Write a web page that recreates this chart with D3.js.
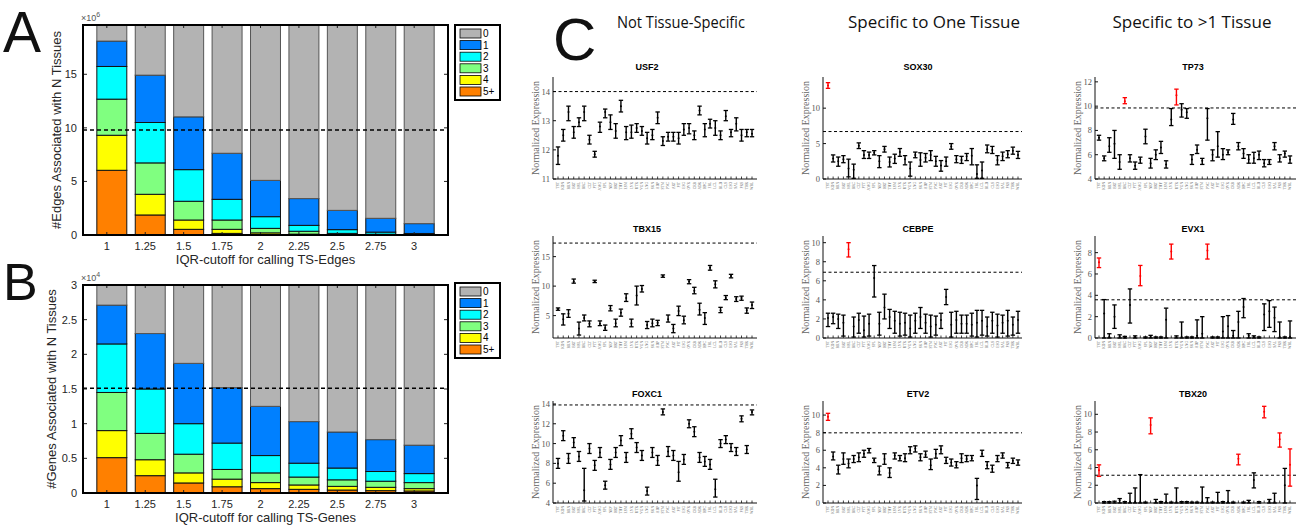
<!DOCTYPE html>
<html>
<head>
<meta charset="utf-8">
<script src="https://cdn.jsdelivr.net/npm/d3@7"></script>
<style>body{margin:0;background:#fff}</style>
</head>
<body>
<script>
'use strict';

// ---- panels A and B : stacked bars ----
const cutoffs = ["1", "1.25", "1.5", "1.75", "2", "2.25", "2.5", "2.75", "3"];
const nKeys = ["0", "1", "2", "3", "4", "5+"];
const nColors = ["#b3b3b3", "#0080ff", "#00ffff", "#80ff80", "#ffff00", "#ff8000"];

// edges (x 10^6), one array per number of tissues
const edges0 = [1.5, 4.68, 8.57, 11.97, 14.5, 16.2, 17.3, 18.04, 18.54];
const edges1 = [2.37, 4.42, 4.93, 4.3, 3.39, 2.5, 1.8, 1.29, 0.92];
const edges2 = [3.05, 3.77, 2.95, 1.93, 1.09, 0.55, 0.35, 0.2, 0.1];
const edges3 = [3.37, 2.93, 1.75, 0.87, 0.42, 0.27, 0.11, 0.05, 0.03];
const edges4 = [3.27, 1.93, 0.87, 0.38, 0.15, 0.06, 0.03, 0.015, 0.01];
const edges5 = [6.04, 1.87, 0.53, 0.15, 0.05, 0.02, 0.01, 0.005, 0.003];
const edgesHalf = 9.8;

// genes (x 10^4)
const genes0 = [0.31, 0.72, 1.15, 1.5, 1.77, 1.99, 2.14, 2.25, 2.33];
const genes1 = [0.56, 0.80, 0.87, 0.80, 0.71, 0.60, 0.52, 0.46, 0.41];
const genes2 = [0.70, 0.64, 0.44, 0.38, 0.25, 0.20, 0.17, 0.14, 0.13];
const genes3 = [0.55, 0.38, 0.27, 0.14, 0.14, 0.114, 0.094, 0.088, 0.087];
const genes4 = [0.39, 0.23, 0.145, 0.11, 0.087, 0.063, 0.053, 0.048, 0.034];
const genes5 = [0.51, 0.25, 0.145, 0.09, 0.063, 0.053, 0.043, 0.034, 0.029];
const genesHalf = 1.51;

// ---- panel C : expression per tissue, [low, mean, high] ----
const tissues = ["TST","KDN","BRN","BRT","MSL","BRC","CLT","PTT","AMG","SPL","NRV","HRT","THY",
  "ESM","LVR","UTR","VGN","LNG","SKN","ADP","STM","PNC","ART","PIT","ESG","OVR","CRB","ADR",
  "HPC","FBL","LCL","BLD","CLS","ESO","SAL","PRS","THR","WBL"];

const usf2 = [[11.5,11.8,12.1],[12.3,12.5,12.7],[13.0,13.3,13.5],[12.4,12.6,12.8],[12.8,12.95,13.1],
  [13.0,13.3,13.5],[12.2,12.35,12.5],[11.75,11.85,11.95],[12.6,12.8,12.95],[13.1,13.3,13.4],
  [12.7,12.95,13.2],[12.4,12.65,12.9],[13.3,13.5,13.7],[12.35,12.6,12.8],[12.4,12.6,12.85],
  [12.6,12.75,12.9],[12.5,12.65,12.8],[12.2,12.4,12.6],[12.35,12.5,12.7],[12.9,13.1,13.3],
  [12.15,12.3,12.45],[12.3,12.45,12.6],[12.3,12.45,12.6],[12.2,12.4,12.6],[12.5,12.7,12.9],
  [12.55,12.75,12.9],[12.35,12.5,12.65],[13.2,13.35,13.5],[12.45,12.7,12.9],[12.75,12.9,13.05],
  [12.5,12.75,13.0],[12.35,12.5,12.65],[13.0,13.15,13.35],[12.45,12.6,12.7],[12.65,12.9,13.1],
  [12.3,12.5,12.7],[12.45,12.6,12.7],[12.45,12.55,12.7]];

const tbx15 = [[5.9,6.1,6.3],[3.4,4.4,5.3],[4.7,5.3,6.0],[10.5,10.8,11.2],[1.7,2.8,3.9],[4.1,4.6,5.1],
  [3.1,3.6,4.1],[10.6,10.8,11.0],[3.3,3.6,4.1],[2.5,2.9,3.4],[5.8,6.2,6.7],[3.1,3.7,4.4],
  [4.9,5.5,6.1],[7.4,8.0,8.7],[3.1,3.7,4.4],[6.8,8.4,10.0],[9.0,9.5,10.1],[2.8,3.4,4.0],
  [3.1,3.7,4.4],[3.3,3.8,4.2],[11.5,11.7,11.9],[3.9,4.4,5.1],[2.1,2.8,3.5],[5.0,5.8,6.6],
  [3.6,4.2,4.9],[10.4,10.8,11.1],[8.7,9.2,9.8],[5.1,6.0,7.1],[3.5,4.6,5.5],[12.7,13.1,13.5],
  [9.7,10.3,10.9],[5.5,5.9,6.4],[7.7,8.0,8.4],[11.4,11.7,12.0],[7.4,7.8,8.2],[7.6,8.0,8.3],
  [5.4,5.9,6.3],[6.2,6.8,7.3]];

const foxc1 = [[7.5,8.0,8.5],[10.3,10.8,11.3],[8.0,8.5,9.0],[9.6,10.1,10.6],[8.2,8.7,9.2],[4.2,5.3,7.5],
  [9.0,9.5,10.0],[7.3,7.8,8.3],[8.6,9.1,9.6],[5.4,5.8,6.2],[7.4,7.9,8.4],[8.6,9.1,9.6],
  [9.8,10.3,10.8],[8.1,8.6,9.1],[10.5,11.0,11.5],[9.1,9.6,10.1],[8.3,8.8,9.3],[4.8,5.2,5.6],
  [8.6,9.1,9.6],[7.8,8.3,8.8],[12.9,13.2,13.5],[8.7,9.2,9.7],[8.3,8.8,9.3],[6.2,7.1,8.2],
  [7.9,8.4,8.9],[11.6,12.0,12.4],[10.7,11.2,11.7],[8.1,8.6,9.1],[7.7,8.2,8.7],[7.4,7.9,8.4],
  [4.6,5.4,6.4],[9.6,10.0,10.4],[10.0,10.4,10.8],[9.2,9.6,10.0],[8.8,9.2,9.6],[12.2,12.5,12.8],
  [9.0,9.4,9.8],[12.9,13.2,13.4]];

const sox30 = [[12.8,13.2,13.6],[2.4,2.9,3.4],[1.8,2.5,3.1],[2.3,2.8,3.3],[0.3,1.5,2.8],[0.1,1.3,2.1],
  [4.3,4.7,5.1],[2.9,3.4,4.0],[2.9,3.4,3.8],[3.4,3.7,4.0],[1.6,2.5,3.3],[3.8,4.2,4.6],
  [1.7,2.4,3.1],[2.2,2.9,3.5],[3.2,3.8,4.3],[2.0,2.8,3.3],[0.4,1.5,2.4],[3.0,3.4,3.8],
  [1.8,2.7,3.7],[2.4,3.0,3.6],[2.6,3.4,4.0],[1.8,2.5,3.2],[1.1,1.9,2.6],[1.8,2.5,3.1],
  [4.2,4.6,5.0],[2.3,2.8,3.3],[2.2,2.7,3.2],[2.6,3.2,3.6],[2.0,3.3,4.3],[0.1,0.7,2.0],
  [0.1,1.2,2.4],[3.7,4.2,4.8],[3.6,4.1,4.6],[2.0,2.7,3.3],[2.6,3.2,3.8],[3.0,3.5,4.0],
  [3.5,4.0,4.5],[2.9,3.4,3.9]];

const cebpe = [[1.2,2.1,2.6],[1.5,2.2,2.6],[1.0,2.0,2.5],[0.2,1.6,2.4],[8.5,9.3,10.0],[0.1,1.2,2.2],
  [0.5,1.9,2.6],[0.1,0.8,2.3],[0.2,1.5,2.5],[4.3,6.3,7.6],[0.3,1.5,2.7],[2.0,3.2,4.6],
  [1.0,2.2,3.0],[0.5,1.8,2.8],[0.2,1.5,2.7],[0.3,1.6,2.6],[0.1,1.0,2.4],[0.5,1.8,2.6],
  [1.0,2.2,3.2],[0.5,1.6,2.5],[0.1,1.2,2.4],[0.3,1.4,2.3],[1.0,1.9,2.6],[3.5,4.3,5.1],
  [0.1,1.4,2.7],[0.5,1.9,2.8],[0.5,1.5,2.4],[0.5,1.5,2.4],[0.2,1.4,2.6],[0.1,1.6,2.9],
  [0.3,1.8,2.9],[0.2,1.2,2.2],[0.5,1.8,2.7],[0.1,1.3,2.5],[0.5,1.6,2.4],[0.2,1.8,2.9],
  [0.3,1.4,2.2],[0.5,1.9,2.8]];

const etv2 = [[9.4,9.8,10.2],[4.9,5.3,5.8],[3.3,3.8,4.3],[4.4,5.0,5.7],[4.0,4.5,5.0],[4.6,5.0,5.4],
  [4.7,5.2,5.7],[5.2,5.6,6.0],[5.7,6.0,6.2],[4.6,4.9,5.1],[3.2,3.6,4.2],[4.4,5.0,5.6],
  [2.9,3.4,4.0],[5.0,5.4,5.7],[4.8,5.1,5.4],[4.7,5.1,5.6],[5.6,6.0,6.4],[5.8,6.2,6.5],
  [4.8,5.2,5.6],[5.2,5.5,5.9],[3.8,4.3,5.0],[5.1,5.6,6.1],[5.6,6.1,6.5],[4.5,4.8,5.2],
  [4.2,4.6,5.0],[4.0,4.3,4.7],[4.6,5.1,5.6],[4.7,5.0,5.4],[4.8,5.1,5.4],[0.4,2.0,2.8],
  [5.3,5.6,6.0],[3.9,4.3,4.7],[3.5,3.9,4.3],[4.7,5.0,5.4],[5.1,5.4,5.7],[4.0,4.3,4.6],
  [4.5,4.8,5.1],[4.3,4.6,4.9]];

const tp73 = [[7.2,7.4,7.6],[5.5,5.7,5.9],[6.2,6.7,7.4],[5.7,6.9,8.0],[4.8,5.4,6.0],[10.2,10.4,10.7],
  [5.4,5.7,6.0],[4.8,5.1,5.4],[5.3,5.6,5.8],[6.9,7.5,8.1],[4.9,5.3,5.7],[5.6,6.0,6.4],
  [6.1,6.6,7.1],[4.9,5.2,5.5],[8.4,8.9,9.8],[10.1,10.9,11.4],[9.1,9.7,10.2],[9.0,9.5,9.8],
  [5.2,5.6,6.0],[6.1,6.4,6.8],[5.2,5.5,5.7],[7.2,9.0,9.8],[5.5,6.0,6.4],[5.8,6.7,7.9],
  [5.6,6.0,6.5],[6.0,6.2,6.4],[8.5,8.9,9.4],[6.4,6.7,7.0],[5.7,6.1,6.5],[5.3,5.6,6.0],
  [5.3,5.7,6.2],[5.6,6.0,6.3],[5.0,5.3,5.6],[5.2,5.4,5.6],[6.4,6.7,7.0],[5.4,5.7,6.0],
  [5.8,6.1,6.3],[5.3,5.6,5.9]];

const evx1 = [[6.6,7.1,7.5],[0,2.3,3.6],[0,0.1,0.4],[0.9,2.0,3.1],[0,0.15,0.3],[0,0.05,0.15],
  [1.4,3.1,4.6],[0,0.1,0.2],[4.9,5.8,6.8],[0,0.05,0.1],[0,0.1,0.25],[0,0.05,0.1],
  [0,0.05,0.1],[0,1.7,2.8],[7.4,8.1,8.8],[0,0.1,0.2],[0,0.1,1.5],[0,0.05,0.1],
  [0,0.05,0.1],[0,0.2,1.7],[0,0.4,2.0],[7.4,8.2,8.8],[0,0.05,0.1],[0,0.05,0.1],
  [0,0.6,2.0],[0,1.1,2.1],[0,0.2,0.7],[0,1.5,2.5],[1.9,2.9,3.7],[0,0.2,0.4],
  [0,0.1,0.2],[0,0.05,0.1],[0.7,2.2,3.2],[1.0,2.5,3.5],[0.6,1.9,2.9],[0,0.1,1.5],
  [0,0.05,0.1],[0,0.1,1.6]];

const tbx20 = [[3.0,3.7,4.3],[0,0.05,0.15],[0,0.05,0.15],[0,0.1,0.2],[0,0.3,0.5],[0,0.05,0.15],
  [0,0.1,1.1],[0,0.1,1.7],[0,0.1,3.2],[0,0.05,0.1],[7.8,8.8,9.6],[0,0.1,0.4],
  [0,0.05,0.15],[0,0.1,1.0],[0,0.05,0.1],[0,0.1,1.7],[0,0.05,0.15],[0,0.05,0.15],
  [0,0.05,0.1],[0,0.05,0.1],[0,0.1,1.8],[0,0.1,0.6],[0,0.05,0.1],[0,0.1,1.2],
  [0,0.05,0.15],[0,0.1,1.4],[0,0.05,0.1],[4.3,5.0,5.5],[0,0.05,0.1],[0,0.1,0.3],
  [1.7,2.6,3.4],[0,0.05,0.15],[9.6,10.3,10.9],[0,0.2,0.4],[0,0.1,1.1],[6.3,7.2,7.9],
  [0,2.0,3.9],[1.9,4.3,6.1]];

const columnTitles = ["Not Tissue-Specific", "Specific to One Tissue", "Specific to >1 Tissue"];

const genePanels = [
  {name: "USF2",  data: usf2,  col: 0, row: 0, domain: [11, 14.5], ticks: [11, 12, 13, 14], thr: 14.0},
  {name: "TBX15", data: tbx15, col: 0, row: 1, domain: [1.2, 18.5], ticks: [5, 10, 15], thr: 17.3},
  {name: "FOXC1", data: foxc1, col: 0, row: 2, domain: [4, 14.3], ticks: [4, 6, 8, 10, 12, 14], thr: 13.9},
  {name: "SOX30", data: sox30, col: 1, row: 0, domain: [0, 14.4], ticks: [0, 5, 10], thr: 6.7},
  {name: "CEBPE", data: cebpe, col: 1, row: 1, domain: [0, 10.7], ticks: [0, 2, 4, 6, 8, 10], thr: 6.9},
  {name: "ETV2",  data: etv2,  col: 1, row: 2, domain: [0, 11.6], ticks: [0, 2, 4, 6, 8, 10], thr: 7.98},
  {name: "TP73",  data: tp73,  col: 2, row: 0, domain: [4, 12.4], ticks: [4, 6, 8, 10, 12], thr: 9.85},
  {name: "EVX1",  data: evx1,  col: 2, row: 1, domain: [0, 9.56], ticks: [0, 2, 4, 6, 8], thr: 3.58},
  {name: "TBX20", data: tbx20, col: 2, row: 2, domain: [0, 11.5], ticks: [0, 2, 4, 6, 8, 10], thr: 3.13}
];

// ---- layout ----
const svg = d3.select("body").append("svg")
  .attr("width", 1300).attr("height", 527)
  .style("font-family", "'Liberation Sans', Arial, sans-serif");

const letterFont = "'Liberation Sans', Arial, sans-serif";
[["A", 3, 52, 57], ["B", 3, 300, 52], ["C", 553, 60, 60]].forEach(([t, x, y, s]) => {
  svg.append("text").attr("x", x).attr("y", y).text(t)
    .style("font-family", letterFont).style("font-size", s + "px").attr("fill", "#111");
});

function drawStacked(cfg) {
  const g = svg.append("g");
  const x = d3.scalePoint().domain(cutoffs).range([cfg.x0, cfg.x1]).padding(0.75);
  const y = d3.scaleLinear().domain([0, cfg.ymax]).range([cfg.y1, cfg.y0]);
  const bw = x.step() * 0.78;

  const rows = cutoffs.map((c, i) => {
    const r = {cut: c};
    nKeys.forEach((k, j) => { r[k] = cfg.series[j][i]; });
    return r;
  });
  const layers = d3.stack().keys(nKeys.slice().reverse())(rows);

  const clipId = "clip" + cfg.id;
  g.append("clipPath").attr("id", clipId).append("rect")
    .attr("x", cfg.x0).attr("y", cfg.y0).attr("width", cfg.x1 - cfg.x0).attr("height", cfg.y1 - cfg.y0);

  const bars = g.append("g").attr("clip-path", "url(#" + clipId + ")");
  layers.forEach(layer => {
    const col = nColors[nKeys.indexOf(layer.key)];
    bars.selectAll(null).data(layer).enter().append("rect")
      .attr("x", d => x(d.data.cut) - bw / 2)
      .attr("y", d => y(d[1]))
      .attr("width", bw)
      .attr("height", d => Math.max(0, y(d[0]) - y(d[1])))
      .attr("fill", col)
      .attr("stroke", layer.key === "0" ? "#555" : "#111")
      .attr("stroke-width", 1);
  });

  g.append("line")
    .attr("x1", cfg.x0).attr("x2", cfg.x1)
    .attr("y1", y(cfg.half)).attr("y2", y(cfg.half))
    .attr("stroke", "#000").attr("stroke-width", 1.4).attr("stroke-dasharray", "4,3");

  // y ticks both sides
  cfg.ticks.forEach(t => {
    g.append("line").attr("x1", cfg.x0).attr("x2", cfg.x0 + 4).attr("y1", y(t)).attr("y2", y(t)).attr("stroke", "#222");
    g.append("line").attr("x1", cfg.x1).attr("x2", cfg.x1 - 4).attr("y1", y(t)).attr("y2", y(t)).attr("stroke", "#222");
    g.append("text").attr("x", cfg.x0 - 6).attr("y", y(t)).attr("dy", "0.35em")
      .attr("text-anchor", "end").attr("font-size", 11).attr("fill", "#262626").text(t);
  });
  cutoffs.forEach(c => {
    const xt = x(c) - 5;
    g.append("line").attr("x1", xt).attr("x2", xt).attr("y1", cfg.y1).attr("y2", cfg.y1 - 3).attr("stroke", "#222");
    g.append("line").attr("x1", xt).attr("x2", xt).attr("y1", cfg.y0).attr("y2", cfg.y0 + 3).attr("stroke", "#222");
    g.append("text").attr("x", xt).attr("y", cfg.y1 + 15)
      .attr("text-anchor", "middle").attr("font-size", 11).attr("fill", "#262626").text(c);
  });

  g.append("rect").attr("x", cfg.x0).attr("y", cfg.y0)
    .attr("width", cfg.x1 - cfg.x0).attr("height", cfg.y1 - cfg.y0)
    .attr("fill", "none").attr("stroke", "#000").attr("stroke-width", 2);

  const ex = g.append("text").attr("x", cfg.x0 - 2).attr("y", cfg.y0 - 4)
    .attr("font-size", 9).attr("fill", "#555");
  ex.append("tspan").text("\u00d710");
  ex.append("tspan").attr("dy", -4).attr("font-size", 7).text(cfg.exp);

  g.append("text")
    .attr("transform", "translate(" + cfg.ylx + "," + ((cfg.y0 + cfg.y1) / 2) + ") rotate(-90)")
    .attr("text-anchor", "middle").attr("font-size", 13).attr("fill", "#262626").text(cfg.ylabel);
  g.append("text").attr("x", (cfg.x0 + cfg.x1) / 2).attr("y", cfg.y1 + 29)
    .attr("text-anchor", "middle").attr("font-size", 13).attr("fill", "#262626").text(cfg.xlabel);

  // legend
  const lx = 455, ly = cfg.legY;
  g.append("rect").attr("x", lx).attr("y", ly).attr("width", 45).attr("height", 75)
    .attr("fill", "#fff").attr("stroke", "#000").attr("stroke-width", 2);
  nKeys.forEach((k, i) => {
    const yy = ly + 4 + i * 11.6;
    g.append("rect").attr("x", lx + 5).attr("y", yy).attr("width", 21).attr("height", 9)
      .attr("fill", nColors[i]).attr("stroke", "#000").attr("stroke-width", 0.8);
    g.append("text").attr("x", lx + 28).attr("y", yy + 4.5).attr("dy", "0.35em")
      .attr("font-size", 10).attr("fill", "#000").text(k);
  });
}

drawStacked({id: "A", x0: 83, x1: 448, y0: 25, y1: 235, ymax: 19.6, half: edgesHalf, ylx: 61,
  series: [edges0, edges1, edges2, edges3, edges4, edges5], ticks: [0, 5, 10, 15], exp: "6",
  ylabel: "#Edges Associated with N Tissues", xlabel: "IQR-cutoff for calling TS-Edges", legY: 25});
drawStacked({id: "B", x0: 83, x1: 448, y0: 285, y1: 493, ymax: 3, half: genesHalf, ylx: 56,
  series: [genes0, genes1, genes2, genes3, genes4, genes5], ticks: [0, 0.5, 1, 1.5, 2, 2.5, 3], exp: "4",
  ylabel: "#Genes Associated with N Tissues", xlabel: "IQR-cutoff for calling TS-Genes", legY: 283});

// ---- panel C ----
const cols = [
  {x0: 553, x1: 757, p0: 558, p1: 752, tx: 647, hx: 681, hw: 128},
  {x0: 823, x1: 1022, p0: 828, p1: 1018, tx: 918, hx: 934, hw: 172},
  {x0: 1095, x1: 1296, p0: 1099, p1: 1290, tx: 1193, hx: 1192, hw: 159}
];
const rowsC = [{top: 77, bot: 179, ty: 70}, {top: 236, bot: 338, ty: 232}, {top: 401, bot: 503, ty: 397}];

columnTitles.forEach((t, i) => {
  svg.append("text").attr("x", cols[i].hx).attr("y", 28).attr("text-anchor", "middle")
    .style("font-family", "'Open Sans', 'Noto Sans', sans-serif").attr("font-size", 16).attr("fill", "#111")
    .attr("textLength", cols[i].hw).attr("lengthAdjust", "spacingAndGlyphs").text(t);
});

const serif = "'Liberation Serif', 'DejaVu Serif', serif";

function drawGene(p) {
  const c = cols[p.col], r = rowsC[p.row];
  const g = svg.append("g");
  const x = d3.scalePoint().domain(tissues).range([c.p0, c.p1]);
  const y = d3.scaleLinear().domain(p.domain).range([r.bot, r.top]);

  g.append("text").attr("x", c.tx).attr("y", r.ty).attr("text-anchor", "middle")
    .attr("font-size", 9).attr("font-weight", "bold").attr("fill", "#000").text(p.name);

  g.append("line").attr("x1", c.x0).attr("x2", c.x0).attr("y1", r.top).attr("y2", r.bot).attr("stroke", "#111");
  g.append("line").attr("x1", c.x0).attr("x2", c.x1).attr("y1", r.bot).attr("y2", r.bot).attr("stroke", "#111");

  p.ticks.forEach(t => {
    g.append("line").attr("x1", c.x0).attr("x2", c.x0 + 3).attr("y1", y(t)).attr("y2", y(t)).attr("stroke", "#111");
    g.append("text").attr("x", c.x0 - 3).attr("y", y(t)).attr("dy", "0.35em").attr("text-anchor", "end")
      .style("font-family", serif).attr("font-size", 8.5).attr("fill", "#555").text(t);
  });

  tissues.forEach(t => {
    g.append("line").attr("x1", x(t)).attr("x2", x(t)).attr("y1", r.bot).attr("y2", r.bot - 2.5)
      .attr("stroke", "#111").attr("stroke-width", 0.8);
    g.append("text").attr("transform", "translate(" + (x(t) + 1.2) + "," + (r.bot + 3) + ") rotate(-90)")
      .attr("text-anchor", "end").style("font-family", serif).attr("font-size", 3.6).attr("fill", "#666").text(t);
  });

  g.append("text")
    .attr("transform", "translate(" + (c.x0 - 14) + "," + ((r.top + r.bot) / 2) + ") rotate(-90)")
    .attr("text-anchor", "middle").style("font-family", serif).attr("font-size", 10).attr("fill", "#666")
    .text("Normalized Expression");

  g.append("line").attr("x1", c.x0).attr("x2", c.x1).attr("y1", y(p.thr)).attr("y2", y(p.thr))
    .attr("stroke", "#000").attr("stroke-width", 1).attr("stroke-dasharray", "3,2.5");

  const eb = g.selectAll("g.eb").data(p.data).enter().append("g")
    .attr("stroke", d => d[1] > p.thr ? "#f00" : "#000")
    .attr("fill", d => d[1] > p.thr ? "#f00" : "#000");
  const xi = (d, i) => x(tissues[i]);
  eb.append("line").attr("x1", xi).attr("x2", xi).attr("y1", d => y(d[0])).attr("y2", d => y(d[2])).attr("stroke-width", 1.4);
  eb.append("line").attr("x1", (d, i) => xi(d, i) - 2.2).attr("x2", (d, i) => xi(d, i) + 2.2)
    .attr("y1", d => y(d[0])).attr("y2", d => y(d[0])).attr("stroke-width", 1.3);
  eb.append("line").attr("x1", (d, i) => xi(d, i) - 2.2).attr("x2", (d, i) => xi(d, i) + 2.2)
    .attr("y1", d => y(d[2])).attr("y2", d => y(d[2])).attr("stroke-width", 1.3);
  eb.append("circle").attr("cx", xi).attr("cy", d => y(d[1])).attr("r", 1).attr("stroke", "none");
}

genePanels.forEach(drawGene);
</script>
</body>
</html>
